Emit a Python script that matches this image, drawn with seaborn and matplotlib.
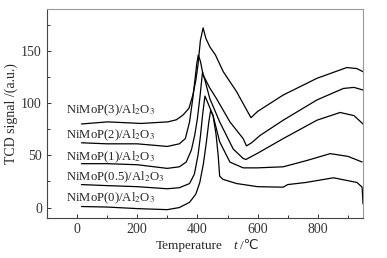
import matplotlib
matplotlib.use('Agg')
import matplotlib.pyplot as plt
import seaborn as sns
from matplotlib.ticker import MultipleLocator

# TPR curves (temperature in C, TCD signal in a.u., offset already included)
t0 = [15, 100, 200, 300, 340, 374, 395, 408, 420, 430, 438, 444, 452, 462, 469, 474, 485, 530, 600, 685, 700, 760, 852, 930, 947, 950]
s0 = [1, 0.5, -1, -2, 0, 5, 13, 24, 42, 63, 82, 93, 88, 70, 50, 30, 27, 23, 20, 19.5, 22, 24, 28.5, 24, 19.5, 3.5]

t05 = [15, 100, 200, 300, 340, 374, 390, 402, 410, 417, 425, 435, 452, 474, 508, 552, 600, 685, 763, 841, 900, 947]
s05 = [22, 21, 20, 18, 19, 23, 32, 50, 68, 88, 106.7, 100, 88, 63, 43.5, 38, 38, 39, 45, 51.6, 49, 43.6]

t1 = [15, 100, 200, 300, 340, 363, 380, 391, 400, 408, 417, 425, 441, 474, 519, 552, 561, 600, 685, 797, 874, 920, 950]
s1 = [42, 42, 41, 37.5, 39, 43.6, 55, 69, 85, 104.5, 129.5, 122, 104.5, 82, 56, 47, 46, 52, 66, 83.6, 91, 88, 80]

t2 = [15, 100, 200, 300, 340, 360, 374, 385, 391, 398, 403, 410, 419, 440, 463, 508, 552, 563, 580, 608, 685, 797, 885, 920, 950]
s2 = [62, 61, 61, 58.5, 61, 66, 82, 105, 120, 138, 146, 140, 127, 115, 104.5, 82, 66, 59, 62, 69, 83.6, 103, 114, 115, 112.5]

t3 = [15, 102, 213, 302, 330, 352, 372, 385, 395, 402, 410, 419, 428, 441, 460, 486, 530, 574, 578, 600, 685, 797, 896, 930, 950]
s3 = [80, 82, 80.5, 82, 84, 88.5, 95, 107.7, 122, 136.5, 160, 172, 162, 154, 146, 130, 111, 88, 86, 92, 107.7, 123.7, 134, 133, 130]

labels = ['NiMoP(0)/Al$_2$O$_3$', 'NiMoP(0.5)/Al$_2$O$_3$', 'NiMoP(1)/Al$_2$O$_3$',
          'NiMoP(2)/Al$_2$O$_3$', 'NiMoP(3)/Al$_2$O$_3$']
label_y = [8.7, 29, 48, 69, 93]

sns.set_style('ticks')
plt.rcParams['font.family'] = ['Liberation Serif', 'DejaVu Sans']
plt.rcParams['mathtext.fontset'] = 'stix'

fig = plt.figure(figsize=(3.87, 2.58), dpi=100)
ax = fig.add_axes([0.121, 0.155, 0.817, 0.81])

for t, s in [(t0, s0), (t05, s05), (t1, s1), (t2, s2), (t3, s3)]:
    sns.lineplot(x=t, y=s, ax=ax, color='black', linewidth=0.9, sort=False)

for lab, y in zip(labels, label_y):
    ax.text(-37, y, lab, fontsize=9.2, va='center', ha='left')

ax.set_xlim(-100, 950)
ax.set_ylim(-10, 190)
ax.xaxis.set_major_locator(MultipleLocator(200))
ax.xaxis.set_minor_locator(MultipleLocator(100))
ax.yaxis.set_major_locator(MultipleLocator(50))
ax.yaxis.set_minor_locator(MultipleLocator(25))
ax.tick_params(which='both', direction='in', labelsize=10, width=0.7, colors='#333333')
ax.tick_params(which='major', length=3)
ax.tick_params(which='minor', length=2)
for side in ['left', 'bottom']:
    ax.spines[side].set_color('#444444')
    ax.spines[side].set_linewidth(0.8)
for side in ['top', 'right']:
    ax.spines[side].set_visible(True)
    ax.spines[side].set_color('#999999')
    ax.spines[side].set_linewidth(0.8)

# x label built from pieces so the italic t and the degree sign both render
fig.text(0.403, 0.048, 'Temperature', fontsize=9.5, ha='left', va='center')
fig.text(0.603, 0.048, 't', fontsize=9.5, ha='left', va='center', fontstyle='italic')
fig.text(0.619, 0.048, '/\u2103', fontsize=9.5, ha='left', va='center',
         family=['Liberation Serif', 'DejaVu Sans'])
ax.set_ylabel('TCD signal /(a.u.)', fontsize=10, labelpad=2)

fig.savefig('out.png', dpi=100)
